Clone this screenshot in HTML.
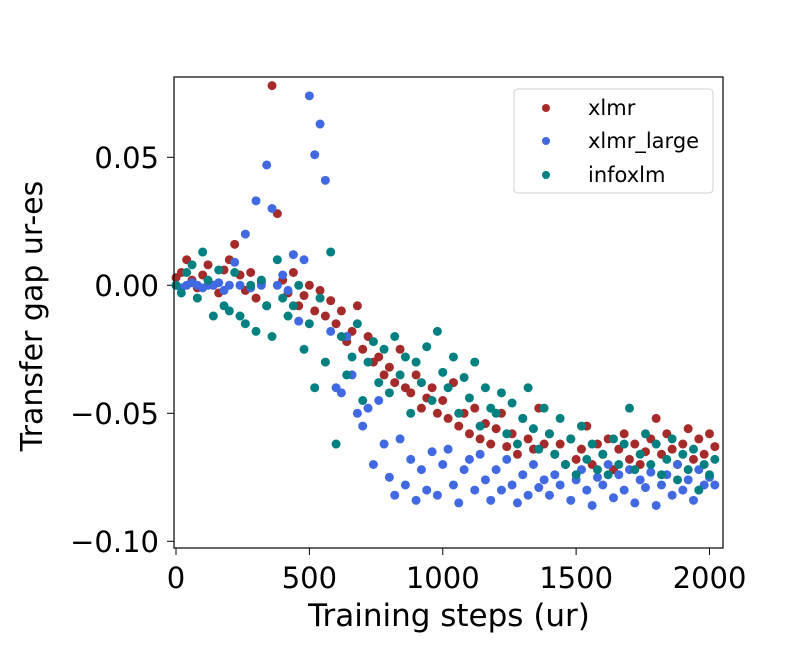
<!DOCTYPE html>
<html><head><meta charset="utf-8"><style>
body{margin:0;background:#fff}
svg{display:block;font-family:"DejaVu Sans","Liberation Sans",sans-serif}
</style></head><body>
<svg id="chart" width="806" height="645">
<g id="ticks"></g>
<g id="points"></g>
<rect x="174" y="77" width="549" height="471" fill="none" stroke="#000" stroke-width="1.2"/>
<text x="449" y="626" font-size="31" text-anchor="middle">Training steps (ur)</text>
<text transform="translate(42,316) rotate(-90)" font-size="30" text-anchor="middle">Transfer gap ur-es</text>
<g>
<rect x="514" y="89" width="199" height="104" rx="4" fill="#fff" stroke="#d0d0d0"/>
<g><circle cx="546" cy="108" r="4" fill="#a52a2a"/><text x="588" y="115" font-size="21">xlmr</text></g>
<g><circle cx="546" cy="141" r="4" fill="#4169e1"/><text x="588" y="148" font-size="21">xlmr_large</text></g>
<g><circle cx="546" cy="175" r="4" fill="#008080"/><text x="588" y="182" font-size="21">infoxlm</text></g>
</g>
</svg>
<script>
const xTicks=[0,500,1000,1500,2000];
const yTicks=[0.05,0.00,-0.05,-0.10];
const yTickLabels=["0.05","0.00","\u22120.05","\u22120.10"];
const xlmrVals=[3,5,10,2,-1,4,8,0,-3,6,10,16,4,-2,5,-5,1,-8,78,28,2,-3,5,-8,-4,0,-10,-2,-12,-6,-15,-10,-22,-18,-8,-25,-20,-30,-28,-35,-32,-38,-25,-40,-42,-35,-48,-44,-40,-50,-45,-52,-38,-55,-50,-58,-48,-60,-54,-62,-56,-50,-63,-58,-66,-52,-60,-64,-48,-62,-58,-66,-62,-70,-60,-68,-64,-55,-70,-62,-66,-60,-72,-64,-58,-68,-62,-70,-65,-60,-52,-66,-58,-64,-70,-62,-56,-68,-60,-66,-58,-63];
const xlmrLargeVals=[0,-1,0,1,0,-1,0,0,1,-2,0,9,0,20,-1,33,0,47,30,0,4,-2,12,-14,10,74,51,63,41,-18,-40,-42,-20,-35,-50,-55,-48,-70,-45,-62,-75,-82,-60,-78,-68,-84,-72,-80,-65,-82,-70,-64,-78,-85,-72,-68,-80,-66,-76,-84,-72,-80,-68,-78,-85,-74,-82,-70,-79,-76,-82,-74,-78,-70,-84,-76,-72,-80,-86,-75,-78,-70,-83,-74,-80,-72,-85,-76,-79,-73,-86,-78,-74,-82,-70,-80,-76,-84,-72,-78,-75,-78];
const infoxlmVals=[0,-3,5,8,-5,13,2,-12,6,-8,-10,5,-12,-15,0,-18,2,-8,-20,10,-5,-12,-8,0,-25,-15,-40,-5,-30,13,-62,-20,-35,-28,-15,-45,-30,-22,-38,-25,-42,-20,-35,-28,-50,-30,-38,-24,-45,-18,-34,-40,-28,-50,-36,-44,-30,-55,-40,-48,-50,-42,-58,-46,-62,-52,-40,-56,-64,-48,-58,-66,-52,-70,-60,-74,-55,-68,-62,-72,-66,-74,-60,-70,-62,-48,-72,-66,-58,-70,-62,-74,-68,-60,-76,-66,-72,-64,-80,-70,-74,-68];
const stepSize=20;
const NS='http://www.w3.org/2000/svg';
function xs(s){return 176+s*0.26675;}
function ys(v){return 285.3-v*2560;}
const tg=document.getElementById('ticks');
xTicks.forEach(t=>{
  const l=document.createElementNS(NS,'line');
  l.setAttribute('x1',xs(t));l.setAttribute('x2',xs(t));l.setAttribute('y1',548);l.setAttribute('y2',555);l.setAttribute('stroke','#000');
  
  
  tg.appendChild(l);
  const tx=document.createElementNS(NS,'text');
  tx.setAttribute('x',xs(t));tx.setAttribute('y',588);tx.setAttribute('font-size','29');tx.setAttribute('text-anchor','middle');
  tx.textContent=t;
  
  
  tg.appendChild(tx);
});
yTicks.forEach((t,i)=>{
  const l=document.createElementNS(NS,'line');
  l.setAttribute('x1',167);l.setAttribute('x2',174);l.setAttribute('y1',ys(t));l.setAttribute('y2',ys(t));l.setAttribute('stroke','#000');
  
  
  tg.appendChild(l);
  const tx=document.createElementNS(NS,'text');
  tx.setAttribute('x',159);tx.setAttribute('y',ys(t)+10.5);tx.setAttribute('font-size','29');tx.setAttribute('text-anchor','end');
  tx.textContent=yTickLabels[i];
  
  
  tg.appendChild(tx);
});
const pg=document.getElementById('points');
function draw(vals,color,name){
  vals.forEach((v,i)=>{
    const c=document.createElementNS(NS,'circle');
    c.setAttribute('cx',xs(i*stepSize));c.setAttribute('cy',ys(v/1000));c.setAttribute('r',4.5);c.setAttribute('fill',color);
    
    
    pg.appendChild(c);
  });
}
draw(xlmrVals,'#a52a2a','point-xlmr');
draw(xlmrLargeVals,'#4169e1','point-xlmr-large');
draw(infoxlmVals,'#008080','point-infoxlm');
</script>
</body></html>
